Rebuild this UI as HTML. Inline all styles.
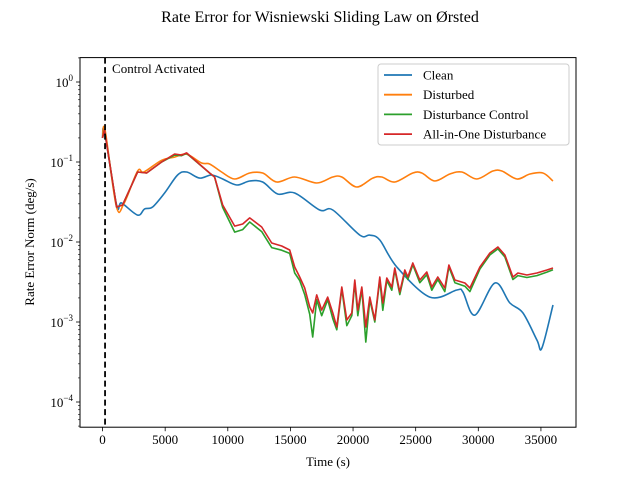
<!DOCTYPE html>
<html><head><meta charset="utf-8"><style>
body{margin:0;background:#fff}
svg{display:block;font-family:"Liberation Serif",serif}
</style></head><body>
<svg id="chart" width="640" height="480" viewBox="0 0 640 480" xmlns="http://www.w3.org/2000/svg">
<rect width="640" height="480" fill="#fff"/>
<text x="320" y="22" text-anchor="middle" font-size="16">Rate Error for Wisniewski Sliding Law on Ørsted</text>
<g id="plot"></g>
<text x="328" y="466" text-anchor="middle" font-size="13">Time (s)</text>
<text transform="translate(34,242) rotate(-90)" text-anchor="middle" font-size="13">Rate Error Norm (deg/s)</text>
</svg>
<script>
const xTicks=[0,5000,10000,15000,20000,25000,30000,35000];
const yDecades=[-4,-3,-2,-1,0];
const controlTime=200;
const seriesNames=["Clean","Disturbed","Disturbance Control","All-in-One Disturbance"];
const cleanT=[0,160,1119,1518,2797,3356,3995,4954,5993,6712,7751,8710,9589,10708,11747,12786,13984,15343,17340,18380,20537,21336,22135,23494,26131,28288,28768,29727,31325,32524,33563,34681,35081,35960];
const cleanV=[0.2,0.237,0.029,0.0307,0.0217,0.0259,0.0274,0.041,0.0688,0.075,0.063,0.0688,0.0613,0.0516,0.0579,0.0562,0.0398,0.041,0.0251,0.0251,0.0122,0.0122,0.0106,0.00487,0.00205,0.00251,0.00237,0.00122,0.00307,0.00173,0.0013,0.000596,0.000473,0.00163];
const distT=[0,200,1100,1700,2797,3300,4715,5754,6712,7911,8550,9509,10548,11747,12786,13904,15343,17101,18380,19099,20297,21576,22295,23334,24772,25492,26530,27729,28688,29886,31165,31884,33083,34122,35161,35960];
const distV=[0.2,0.25,0.028,0.03,0.077,0.075,0.105,0.115,0.125,0.0972,0.0944,0.075,0.0613,0.0729,0.0729,0.0562,0.0649,0.0546,0.0649,0.0649,0.0487,0.063,0.0649,0.0562,0.0729,0.0729,0.0579,0.0708,0.075,0.0613,0.0772,0.0772,0.0613,0.0708,0.0729,0.0579];
const ctrlT=[0,160,1119,1598,2797,3516,4715,5754,6313,6712,8550,8950,9589,10548,11187,11747,12706,13505,14304,14943,15343,15742,16142,16541,16781,17101,17500,17980,18380,18699,19099,19498,19898,20138,20377,20697,21017,21336,21736,22135,22375,22695,23094,23334,23733,24133,24373,24772,25332,25891,26291,26770,27329,27649,28129,28928,29327,30126,30925,31565,32124,32763,33163,33882,34681,35480,35960];
const ctrlV=[0.2,0.251,0.0274,0.029,0.075,0.0729,0.1,0.122,0.12,0.128,0.0729,0.0649,0.027,0.0133,0.0143,0.0178,0.0135,0.0085,0.0079,0.0072,0.0041,0.0033,0.0022,0.00125,0.00065,0.0019,0.0012,0.0019,0.0011,0.0008,0.0026,0.0009,0.0012,0.0031,0.0012,0.0026,0.00056,0.0019,0.001,0.0034,0.0014,0.0033,0.0025,0.0045,0.0022,0.0042,0.0034,0.0052,0.0031,0.0039,0.0025,0.0034,0.0024,0.0049,0.0031,0.0028,0.0024,0.0046,0.0069,0.0082,0.0065,0.0034,0.0038,0.0036,0.0038,0.0042,0.0045];
const allT=ctrlT.slice();
const allV=[0.2,0.251,0.0274,0.029,0.075,0.0729,0.1,0.126,0.122,0.13,0.0729,0.0649,0.029,0.0158,0.0168,0.02,0.0154,0.00972,0.00891,0.00794,0.00487,0.00365,0.00266,0.00154,0.0013,0.00218,0.00141,0.00205,0.0013,0.000866,0.00274,0.00106,0.0013,0.00335,0.00141,0.00274,0.000866,0.00205,0.00106,0.00365,0.00173,0.00355,0.00274,0.00473,0.00237,0.00447,0.00365,0.00546,0.00335,0.00422,0.00274,0.00365,0.00266,0.00516,0.00335,0.00307,0.00266,0.00487,0.00729,0.00866,0.00688,0.00365,0.0041,0.00387,0.0041,0.00447,0.00473];
const colors=["#1f77b4","#ff7f0e","#2ca02c","#d62728"];

const L=80,R=576,T=57.6,B=427.2,xmin=-1800,xmax=37800,lmax=0.305,lmin=-4.315;
const xs=t=>L+(t-xmin)/(xmax-xmin)*(R-L);
const ys=v=>T+(lmax-Math.log10(v))/(lmax-lmin)*(B-T);
const NS="http://www.w3.org/2000/svg";
const plot=document.getElementById('plot');
function mk(tag,attrs,parent){const e=document.createElementNS(NS,tag);for(const k in attrs)e.setAttribute(k,attrs[k]);(parent||plot).appendChild(e);return e;}
function smoothPath(p){
  let d='M'+p[0][0].toFixed(1)+','+p[0][1].toFixed(1);
  for(let i=0;i<p.length-1;i++){
    const p0=p[Math.max(0,i-1)],p1=p[i],p2=p[i+1],p3=p[Math.min(p.length-1,i+2)];
    const c1=[p1[0]+(p2[0]-p0[0])/6,p1[1]+(p2[1]-p0[1])/6];
    const c2=[p2[0]-(p3[0]-p1[0])/6,p2[1]-(p3[1]-p1[1])/6];
    d+=' C'+c1[0].toFixed(1)+','+c1[1].toFixed(1)+' '+c2[0].toFixed(1)+','+c2[1].toFixed(1)+' '+p2[0].toFixed(1)+','+p2[1].toFixed(1);
  }
  return d;
}
function linePath(p){return 'M'+p.map(q=>q[0].toFixed(1)+','+q[1].toFixed(1)).join(' L');}

const clip=mk('clipPath',{id:'clp'});mk('rect',{x:L,y:T,width:R-L,height:B-T},clip);
const data=[[cleanT,cleanV],[distT,distV],[ctrlT,ctrlV],[allT,allV]];
const snames=['clean-line','disturbed-line','disturbance-control-line','all-in-one-line'];
data.forEach((d,i)=>{
  const pts=d[0].map((t,j)=>[xs(t),ys(d[1][j])]);
  const pa=mk('path',{d:i<2?smoothPath(pts):linePath(pts),fill:'none',stroke:colors[i],'stroke-width':1.6,'stroke-linejoin':'round','clip-path':'url(#clp)'});
  
  
});
const cl=mk('line',{x1:xs(controlTime),x2:xs(controlTime),y1:T,y2:B,stroke:'#000','stroke-width':1.8,'stroke-dasharray':'6,3.5'});


const ct=mk('text',{x:xs(controlTime)+7,y:73,'font-size':13});ct.textContent='Control Activated';


const fr=mk('rect',{x:L,y:T,width:R-L,height:B-T,fill:'none',stroke:'#000','stroke-width':1});


xTicks.forEach(t=>{
  const x=xs(t);
  mk('line',{x1:x,x2:x,y1:B,y2:B+4,stroke:'#000','stroke-width':0.8});
  const tx=mk('text',{x:x,y:B+17,'text-anchor':'middle','font-size':13});tx.textContent=t;
  
  
});
yDecades.forEach(p=>{
  const y=ys(Math.pow(10,p));
  mk('line',{x1:L-4,x2:L,y1:y,y2:y,stroke:'#000','stroke-width':0.8});
  const tx=mk('text',{x:L-7,y:y+5,'text-anchor':'end','font-size':13});
  tx.textContent='10';
  const s=mk('tspan',{dy:-6,'font-size':9},tx);s.textContent=p===0?'0':'−'+(-p);
  
  
});
for(let p=-5;p<=0;p++)for(let m=2;m<=9;m++){
  const v=m*Math.pow(10,p),y=ys(v);
  if(y<T||y>B)continue;
  mk('line',{x1:L-2,x2:L,y1:y,y2:y,stroke:'#000','stroke-width':0.6});
}
const lg=mk('g',{});


mk('rect',{x:378,y:64,width:191,height:81,rx:3,fill:'#fff','fill-opacity':0.8,stroke:'#ccc'},lg);
seriesNames.forEach((n,i)=>{
  const y=75+i*19.7;
  const e=mk('g',{},lg);
  
  
  mk('line',{x1:384,x2:412,y1:y,y2:y,stroke:colors[i],'stroke-width':1.8},e);
  const t=mk('text',{x:423,y:y+4.5,'font-size':13},e);t.textContent=n;
});
</script>
</body></html>
